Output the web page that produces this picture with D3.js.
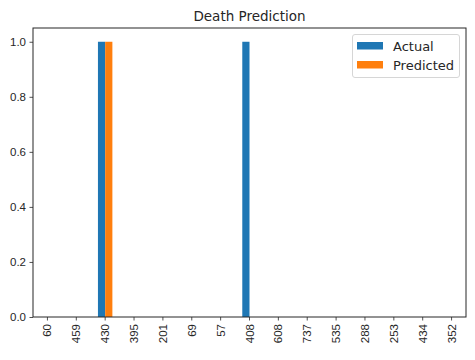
<!DOCTYPE html>
<html>
<head>
<meta charset="utf-8">
<script src="https://cdn.jsdelivr.net/npm/d3@7"></script>
<style>
html,body{margin:0;padding:0;background:#fff;}
svg{display:block;font-family:"DejaVu Sans",sans-serif;}
</style>
</head>
<body>
<svg id="chart" width="475" height="360"></svg>
<script>
const categories = ["60","459","430","395","201","69","57","408","608","737","535","288","253","434","352"];
const actual =    [0,0,1,0,0,0,0,1,0,0,0,0,0,0,0];
const predicted = [0,0,1,0,0,0,0,0,0,0,0,0,0,0,0];
const seriesNames = ["Actual","Predicted"];
const colors = ["#1f77b4","#ff7f0e"];
const yTicks = [0.0,0.2,0.4,0.6,0.8,1.0];

const svg = d3.select("#chart");
const L = 33, R = 466, T = 28, B = 317;

const x = d3.scaleBand().domain(categories).range([L,R]).padding(0);
const y = d3.scaleLinear().domain([0,1.05]).range([B,T]);
const barW = x.bandwidth()*0.25;

const series = [actual, predicted];
series.forEach((vals, si) => {
  svg.append("g").selectAll("rect").data(categories.map((c,i)=>({c, v: vals[i]})))
    .join("rect")
    .attr("x", d => x(d.c) + x.bandwidth()/2 - barW + si*barW)
    .attr("y", d => y(d.v))
    .attr("width", barW)
    .attr("height", d => B - y(d.v))
    .attr("fill", colors[si]);
});

// axes
const xAxis = svg.append("g").attr("transform",`translate(0,${B})`)
  .call(d3.axisBottom(x).tickSize(3.5).tickSizeOuter(0));
xAxis.select(".domain").remove();
xAxis.selectAll("text")
  .attr("transform","rotate(-90)")
  .attr("text-anchor","end")
  .attr("x",-7).attr("y",0).attr("dy","0.35em")
  .style("font-size","11.5px").style("fill","#262626");

const yAxis = svg.append("g").attr("transform",`translate(${L},0)`)
  .call(d3.axisLeft(y).tickValues(yTicks).tickFormat(d3.format(".1f")).tickSize(3.5).tickSizeOuter(0));
yAxis.select(".domain").remove();
yAxis.selectAll("text").attr("x",-7).style("font-size","11.5px").style("fill","#262626");
svg.selectAll(".tick line").attr("stroke","#262626").attr("stroke-width",0.8);

// frame
svg.append("rect").attr("x",L).attr("y",T).attr("width",R-L).attr("height",B-T)
  .attr("fill","none").attr("stroke","#262626").attr("stroke-width",1);

// title
svg.append("text").attr("x",(L+R)/2).attr("y",21).attr("text-anchor","middle")
  .style("font-size","13.5px").style("fill","#262626").text("Death Prediction");

// legend
const lg = svg.append("g");
lg.append("rect").attr("x",352.5).attr("y",34.5).attr("width",107).attr("height",43).attr("rx",2.5)
  .attr("fill","#fff").attr("fill-opacity",0.8).attr("stroke","#d6d6d6").attr("stroke-width",1);
seriesNames.forEach((n,i)=>{
  lg.append("rect").attr("x",357).attr("y",42+i*19).attr("width",26).attr("height",7.5).attr("fill",colors[i]);
  lg.append("text").attr("x",393).attr("y",46+i*19).attr("dy","0.35em")
    .style("font-size","13px").style("fill","#262626").text(n);
});
</script>
</body>
</html>
